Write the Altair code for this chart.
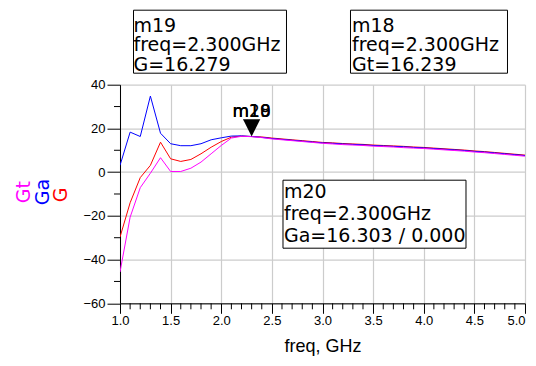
import altair as alt
import pandas as pd

# ---- data ----
freq = [1.0, 1.1, 1.2, 1.3, 1.4, 1.5, 1.6, 1.7, 1.8, 1.9,
        2.0, 2.1, 2.2, 2.3, 2.4, 2.5, 2.6, 2.7, 2.8, 2.9,
        3.0, 3.1, 3.2, 3.3, 3.4, 3.5, 3.6, 3.7, 3.8, 3.9,
        4.0, 4.1, 4.2, 4.3, 4.4, 4.5, 4.6, 4.7, 4.8, 4.9, 5.0]

G = [-29.7, -14.0, -2.5, 3.1, 13.7, 6.1, 4.9, 5.8, 8.4, 11.4,
     14.0, 16.0, 16.5, 16.279, 16.1, 15.6, 15.2, 14.8, 14.4, 14.0,
     13.6, 13.4, 13.1, 12.9, 12.7, 12.4, 12.2, 12.0, 11.8, 11.5,
     11.3, 11.0, 10.7, 10.4, 10.1, 9.7, 9.4, 9.0, 8.6, 8.2, 7.8]

Ga = [3.1, 18.3, 16.3, 34.8, 17.8, 13.0, 12.1, 12.1, 13.0, 14.8,
      15.7, 16.5, 16.6, 16.303, 15.9, 15.4, 15.0, 14.6, 14.2, 13.8,
      13.4, 13.2, 12.9, 12.7, 12.5, 12.2, 12.0, 11.8, 11.6, 11.3,
      11.1, 10.8, 10.5, 10.2, 9.9, 9.5, 9.2, 8.8, 8.4, 8.0, 7.6]

Gt = [-45.7, -20.6, -7.1, -0.5, 6.6, 0.3, 0.3, 1.8, 4.6, 8.4,
      12.2, 15.6, 16.4, 16.239, 15.8, 15.2, 14.8, 14.4, 14.0, 13.6,
      13.2, 12.9, 12.6, 12.4, 12.2, 11.9, 11.7, 11.5, 11.2, 11.0,
      10.8, 10.5, 10.2, 9.9, 9.6, 9.2, 8.9, 8.5, 8.1, 7.7, 7.3]

x_major = [1.0, 1.5, 2.0, 2.5, 3.0, 3.5, 4.0, 4.5, 5.0]
x_minor = [1.1, 1.2, 1.3, 1.4, 1.6, 1.7, 1.8, 1.9, 2.1, 2.2, 2.3, 2.4,
           2.6, 2.7, 2.8, 2.9, 3.1, 3.2, 3.3, 3.4, 3.6, 3.7, 3.8, 3.9,
           4.1, 4.2, 4.3, 4.4, 4.6, 4.7, 4.8, 4.9]
y_major = [-60, -40, -20, 0, 20, 40]
y_minor = [-50, -30, -10, 10, 30]

marker_freq = [2.3]
marker_val = [16.303]
marker_names = ["m18", "m19", "m20"]

m19_text = "m19\nfreq=2.300GHz\nG=16.279"
m18_text = "m18\nfreq=2.300GHz\nGt=16.239"
m20_text = "m20\nfreq=2.300GHz\nGa=16.303 / 0.000"

FONT = "Liberation Sans"
AFONT = "DejaVu Sans"
W, H = 405, 218.6

df = pd.DataFrame({"freq": freq, "G": G, "Ga": Ga, "Gt": Gt})
one = pd.DataFrame({"a": [0]})

xscale = alt.Scale(domain=[1, 5], nice=False, zero=False)
yscale = alt.Scale(domain=[-60, 40], nice=False, zero=False)

xaxis = alt.Axis(values=x_major, format=".1f", title="freq, GHz", grid=True,
                 gridColor="#cccccc", gridWidth=1.2, tickColor="black", tickSize=10,
                 domainColor="black", labelFont=FONT, labelFontSize=13,
                 labelColor="black", labelPadding=1, titleFont=FONT,
                 labelAlign={"expr": "datum.value >= 4.99 ? 'right' : 'center'"},
                 titleFontSize=18, titleFontWeight="normal", titleColor="black",
                 titleBaseline="alphabetic", titleY=48.5, labelFlush=False)
yaxis = alt.Axis(values=y_major, title=None, grid=True, gridColor="#cccccc",
                 gridWidth=1.2, tickColor="black", tickSize=13, domainColor="black",
                 labelFont=FONT, labelFontSize=13, labelColor="black",
                 labelPadding=2, labelFlush=False)

base = alt.Chart(df)

def series(name, color):
    return base.mark_line(color=color, strokeWidth=1, clip=True).encode(
        x=alt.X("freq:Q", scale=xscale, axis=xaxis),
        y=alt.Y(f"{name}:Q", scale=yscale, axis=yaxis),
    )

lines = [series("G", "#ff0000"), series("Ga", "#0000ff"), series("Gt", "#ff00ff")]

xminor = alt.Chart(pd.DataFrame({"v": x_minor})).mark_rule(color="black", strokeWidth=1).encode(
    x=alt.X("v:Q", scale=xscale), y=alt.value(H), y2=alt.value(H + 6))
yminor = alt.Chart(pd.DataFrame({"v": y_minor})).mark_rule(color="black", strokeWidth=1).encode(
    y=alt.Y("v:Q", scale=yscale), x=alt.value(0), x2=alt.value(-6))

mk = pd.DataFrame({"freq": marker_freq * 3, "val": marker_val * 3, "name": marker_names})
tri = alt.Chart(mk.head(1)).mark_point(
    shape="M-1,-2L1,-2L0,0Z", size=300, filled=True, color="black", opacity=1, strokeWidth=0
).encode(x=alt.X("freq:Q", scale=xscale), y=alt.Y("val:Q", scale=yscale))
mlabels = alt.Chart(mk).mark_text(
    font=AFONT, fontSize=17, color="black", align="center", baseline="alphabetic", dy=-20
).encode(x=alt.X("freq:Q", scale=xscale), y=alt.Y("val:Q", scale=yscale), text="name:N")

def box(x1, x2, y1, y2):
    return alt.Chart(one).mark_rect(fill="white", stroke="black", strokeWidth=1).encode(
        x=alt.value(x1), x2=alt.value(x2), y=alt.value(y1), y2=alt.value(y2))

def label(txt, x, y, lh):
    return alt.Chart(one).mark_text(
        font=AFONT, fontSize=19, color="black", align="left", baseline="alphabetic",
        lineBreak="\n", lineHeight=lh
    ).encode(x=alt.value(x), y=alt.value(y), text=alt.value(txt))

ann = [
    box(13.5, 166.5, -74.5, -11.5), label(m19_text, 13.5, -53, 19.7),
    box(230.5, 387.5, -74.5, -11.5), label(m18_text, 232, -53, 19.7),
    box(163, 346, 95.5, 163.5), label(m20_text, 164, 113.6, 21.7),
]

def ytitle(txt, color, x, y):
    return alt.Chart(one).mark_text(
        font=AFONT, fontSize=19, color=color, angle=270, align="left", baseline="middle"
    ).encode(x=alt.value(x), y=alt.value(y), text=alt.value(txt))

ytitles = [ytitle("Gt", "#ff00ff", -96, 118.5), ytitle("Ga", "#0000ff", -77, 120.5),
           ytitle("G", "#ff0000", -59, 117.5)]

chart = alt.layer(*lines, xminor, yminor, tri, mlabels, *ann, *ytitles).properties(
    width=W, height=H,
    padding={"left": 112, "top": 76.7, "right": 3, "bottom": 53.5},
    autosize=alt.AutoSizeParams(type="none"),
    background="white",
).configure_view(stroke=None)

chart.save("out.html", embed_options={"renderer": "svg", "actions": False})
